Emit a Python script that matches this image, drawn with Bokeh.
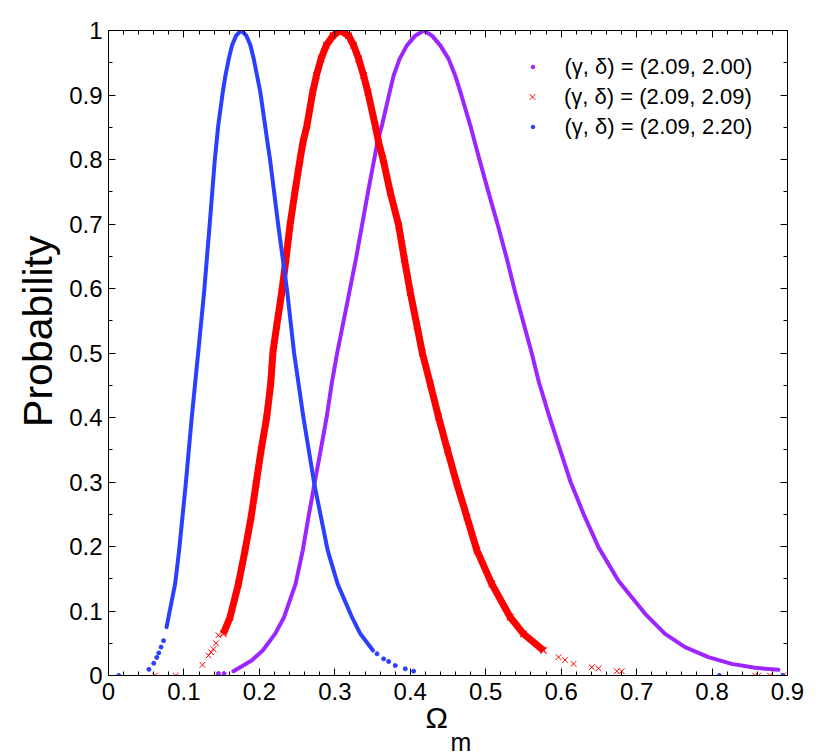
import math
from bokeh.plotting import figure
from bokeh.models import (Range1d, LinearAxis, FixedTicker, CustomJSTickFormatter,
                          Legend, LegendItem, Title)
from bokeh.embed import file_html
from bokeh.resources import INLINE

# ---------------- data ----------------
# (gamma, delta) = (2.09, 2.00)  -- purple, dense curve
purple_x = [0.1656, 0.1898, 0.2044, 0.2208, 0.2327, 0.2480, 0.2575, 0.2650, 0.2730,
            0.2812, 0.2892, 0.2958, 0.3031, 0.3104, 0.3192, 0.3280, 0.3360, 0.3439,
            0.3523, 0.3559, 0.3625, 0.3726, 0.3779, 0.3859, 0.3956, 0.4066, 0.4180,
            0.4287, 0.4397, 0.4508, 0.4596, 0.4666, 0.4795, 0.4914, 0.5037, 0.5161,
            0.5280, 0.5391, 0.5510, 0.5612, 0.5700, 0.5832, 0.5974, 0.6119, 0.6296,
            0.6494, 0.6759, 0.7113, 0.7377, 0.7642, 0.7951, 0.8260, 0.8570, 0.8879]
purple_y = [0.0067, 0.0233, 0.0388, 0.0646, 0.0904, 0.1420, 0.1940, 0.2455, 0.2970,
            0.3490, 0.4005, 0.4520, 0.5000, 0.5426, 0.5940, 0.6460, 0.6980, 0.7490,
            0.8010, 0.8240, 0.8530, 0.9040, 0.9300, 0.9560, 0.9770, 0.9920, 1.0000,
            0.9920, 0.9770, 0.9560, 0.9300, 0.9040, 0.8530, 0.8010, 0.7490, 0.6980,
            0.6460, 0.5940, 0.5426, 0.4987, 0.4570, 0.4057, 0.3540, 0.3020, 0.2506,
            0.1990, 0.1470, 0.0956, 0.0646, 0.0439, 0.0284, 0.0180, 0.0119, 0.0088]
# purple isolated points
purple_dot_x = [0.1457, 0.1532]
purple_dot_y = [0.0030, 0.0030]

# (gamma, delta) = (2.09, 2.09)  -- red, dense band
red_x = [0.1523, 0.1611, 0.1722, 0.1810, 0.1890, 0.1956, 0.2022, 0.2097, 0.2150,
         0.2180, 0.2230, 0.2296, 0.2353, 0.2406, 0.2470, 0.2540, 0.2578, 0.2631,
         0.2706, 0.2755, 0.2817, 0.2887, 0.2976, 0.3073, 0.3183, 0.3249, 0.3316,
         0.3382, 0.3439, 0.3535, 0.3580, 0.3638, 0.3735, 0.3846, 0.3921, 0.4000,
         0.4088, 0.4160, 0.4265, 0.4375, 0.4494, 0.4618, 0.4751, 0.4883, 0.5080,
         0.5325, 0.5501, 0.5766]
red_y = [0.0650, 0.0900, 0.1420, 0.1940, 0.2455, 0.2970, 0.3490, 0.4005, 0.4520,
         0.5020, 0.5426, 0.5940, 0.6460, 0.6980, 0.7490, 0.8010, 0.8270, 0.8530,
         0.9040, 0.9300, 0.9560, 0.9770, 0.9920, 1.0000, 0.9920, 0.9770, 0.9560,
         0.9300, 0.9040, 0.8530, 0.8270, 0.8010, 0.7490, 0.6980, 0.6460, 0.5940,
         0.5426, 0.5000, 0.4520, 0.4005, 0.3490, 0.2970, 0.2455, 0.1940, 0.1420,
         0.0904, 0.0646, 0.0388]
# red isolated crosses
red_tail_x = [0.0618, 0.0892, 0.1245, 0.1325, 0.1360, 0.1390, 0.1425, 0.1457,
              0.5965, 0.6050, 0.6163, 0.6406, 0.6494, 0.6737, 0.6803,
              0.8570, 0.8614, 0.8768, 0.8945]
red_tail_y = [0.0000, 0.0000, 0.0165, 0.0310, 0.0360, 0.0410, 0.0500, 0.0625,
              0.0284, 0.0240, 0.0180, 0.0129, 0.0110, 0.0067, 0.0067,
              0.0000, 0.0000, 0.0000, 0.0000]

# (gamma, delta) = (2.09, 2.20)  -- blue, dense curve
blue_x = [0.0770, 0.0795, 0.0883, 0.0936, 0.1024, 0.1104, 0.1190, 0.1267, 0.1340,
          0.1410, 0.1430, 0.1455, 0.1514, 0.1550, 0.1594, 0.1638, 0.1691, 0.1757,
          0.1828, 0.1881, 0.1925, 0.1969, 0.2013, 0.2075, 0.2110, 0.2140, 0.2250,
          0.2370, 0.2460, 0.2583, 0.2728, 0.2905, 0.3037, 0.3227, 0.3338, 0.3506]
blue_y = [0.0750, 0.0900, 0.1420, 0.1940, 0.2970, 0.4005, 0.5020, 0.5940, 0.6980,
          0.8010, 0.8240, 0.8530, 0.9040, 0.9300, 0.9560, 0.9770, 0.9920, 1.0000,
          0.9920, 0.9770, 0.9560, 0.9300, 0.9040, 0.8530, 0.8240, 0.8010, 0.6980,
          0.5940, 0.5000, 0.4005, 0.2970, 0.1940, 0.1420, 0.0904, 0.0646, 0.0388]
# blue isolated points
blue_dot_x = [0.0135, 0.0536, 0.0600, 0.0640, 0.0666, 0.0697, 0.0730,
              0.3559, 0.3647, 0.3713, 0.3801, 0.3934, 0.4044, 0.8097, 0.8940]
blue_dot_y = [0.0000, 0.0095, 0.0190, 0.0280, 0.0350, 0.0440, 0.0540,
              0.0336, 0.0258, 0.0217, 0.0155, 0.0103, 0.0067, 0.0000, 0.0000]

labels = ["(\u03b3, \u03b4) = (2.09, 2.00)",
          "(\u03b3, \u03b4) = (2.09, 2.09)",
          "(\u03b3, \u03b4) = (2.09, 2.20)"]

x_ticks = [0.0, 0.1, 0.2, 0.3, 0.4, 0.5, 0.6, 0.7, 0.8, 0.9]
y_ticks = [0.0, 0.1, 0.2, 0.3, 0.4, 0.5, 0.6, 0.7, 0.8, 0.9, 1.0]

# ---------------- styling ----------------
PURPLE = "#9B26FF"
RED = "#FF0000"
BLUE = "#2B3FFF"
FONT = "Liberation Sans"

x_minor = [round(i * 0.02, 2) for i in range(46)]
y_minor = [round(i * 0.05, 2) for i in range(21)]

p = figure(frame_width=679, frame_height=645,
           min_border_left=108, min_border_right=40,
           min_border_top=30, min_border_bottom=80,
           x_range=Range1d(0, 0.9), y_range=Range1d(0, 1),
           output_backend="svg", toolbar_location=None)
p.xgrid.visible = False
p.ygrid.visible = False
p.outline_line_color = "black"
p.background_fill_color = "white"
p.border_fill_color = "white"

bottom_ax = p.below[0]
left_ax = p.left[0]
top_ax = LinearAxis()
right_ax = LinearAxis()
p.add_layout(top_ax, "above")
p.add_layout(right_ax, "right")

fmt = CustomJSTickFormatter(code="return (Math.round(tick*10)/10).toString();")
blank = CustomJSTickFormatter(code="return '';")

for ax in [bottom_ax, top_ax]:
    ax.ticker = FixedTicker(ticks=x_ticks, minor_ticks=x_minor)
for ax in [left_ax, right_ax]:
    ax.ticker = FixedTicker(ticks=y_ticks, minor_ticks=y_minor)

for ax in [bottom_ax, left_ax, top_ax, right_ax]:
    ax.axis_line_color = "black"
    ax.major_tick_line_color = "black"
    ax.minor_tick_line_color = "black"
    ax.major_tick_in = 7
    ax.major_tick_out = 0
    ax.minor_tick_in = 4
    ax.minor_tick_out = 0
    ax.major_label_text_font = FONT
    ax.major_label_text_font_size = "24px"
    ax.major_label_text_color = "black"

bottom_ax.formatter = fmt
left_ax.formatter = fmt
bottom_ax.major_label_standoff = 7
left_ax.major_label_standoff = 6
for ax in [top_ax, right_ax]:
    ax.formatter = blank
    ax.major_label_text_font_size = "1px"
    ax.major_label_standoff = 0

# ---------------- glyphs ----------------
p.line(purple_x, purple_y, line_width=4, color=PURPLE, line_cap="round", line_join="round")
r_purple = p.scatter(purple_dot_x, purple_dot_y, marker="circle", size=4, color=PURPLE)

p.line(red_x, red_y, line_width=7, color=RED, line_join="round")
p.scatter(red_x, red_y, marker="x", size=9, line_width=1.2, color=RED)
r_red = p.scatter(red_tail_x, red_tail_y, marker="x", size=8, line_width=1, color=RED)

p.line(blue_x, blue_y, line_width=4, color=BLUE, line_cap="round", line_join="round")
r_blue = p.scatter(blue_dot_x, blue_dot_y, marker="circle", size=4, color=BLUE)

# one single-row legend per entry, so each marker keeps its own size
ROW_H = 29
rows = [(labels[0], r_purple, 9, 594), (labels[1], r_red, 20, 564), (labels[2], r_blue, 9, 534)]
for text, rend, gw, ypos in rows:
    lg = Legend(items=[LegendItem(label=text, renderers=[rend])],
                location=(424 - gw / 2, ypos), padding=0, spacing=0,
                glyph_width=gw, glyph_height=ROW_H, label_height=ROW_H,
                label_standoff=int(round(32 - gw / 2)), label_text_font=FONT,
                label_text_font_size="22px", label_text_color="black",
                border_line_color=None, background_fill_alpha=0)
    p.add_layout(lg)

# axis labels (side-panel titles so that they are not clipped)
ylab = Title(text="Probability", align="right", offset=205, standoff=12,
             vertical_align="bottom", text_font=FONT, text_font_size="41px",
             text_font_style="normal", text_color="black")
p.add_layout(ylab, "left")

xlab = Title(text="\u03a9", align="left", offset=317, standoff=-3,
             vertical_align="top", text_font=FONT, text_font_size="30px",
             text_font_style="normal", text_color="black")
p.add_layout(xlab, "below")
xsub = Title(text="m", align="left", offset=342, standoff=-13,
             vertical_align="top", text_font=FONT, text_font_size="25px",
             text_font_style="normal", text_color="black")
p.add_layout(xsub, "below")

open("out.html", "w").write(file_html(p, INLINE))
